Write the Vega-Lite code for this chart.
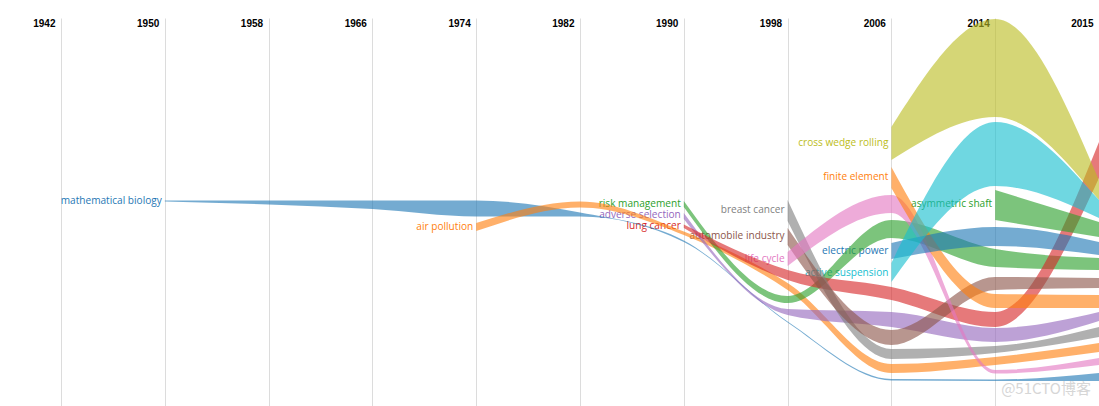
{
  "$schema": "https://vega.github.io/schema/vega-lite/v6.json",
  "width": 1038,
  "height": 388,
  "autosize": {"type": "none"},
  "padding": {"left": 61, "top": 18, "right": 0, "bottom": 0},
  "background": "white",
  "config": {"view": {"stroke": null}},
  "datasets": {
    "bandData": [
      {"topic": "mathematical biology", "year": 1950, "top": 205.5, "bottom": 204.5},
      {"topic": "mathematical biology", "year": 1958, "top": 205.5, "bottom": 201.5},
      {"topic": "mathematical biology", "year": 1966, "top": 205.5, "bottom": 197},
      {"topic": "mathematical biology", "year": 1974, "top": 205.5, "bottom": 189.5},
      {"topic": "mathematical biology", "year": 1982, "top": 193.5, "bottom": 189.5},
      {"topic": "mathematical biology", "year": 1990, "top": 165.5, "bottom": 164},
      {"topic": "mathematical biology", "year": 1998, "top": 84.5, "bottom": 83.5},
      {"topic": "mathematical biology", "year": 2006, "top": 27, "bottom": 25.5},
      {"topic": "mathematical biology", "year": 2014, "top": 26.5, "bottom": 25},
      {"topic": "mathematical biology", "year": 2015, "top": 33, "bottom": 25},
      {"topic": "air pollution", "year": 1974, "top": 183, "bottom": 175},
      {"topic": "air pollution", "year": 1982, "top": 204.5, "bottom": 198.5},
      {"topic": "air pollution", "year": 1990, "top": 174.5, "bottom": 171},
      {"topic": "air pollution", "year": 1998, "top": 123, "bottom": 116},
      {"topic": "air pollution", "year": 2006, "top": 42, "bottom": 33},
      {"topic": "air pollution", "year": 2014, "top": 49, "bottom": 41},
      {"topic": "air pollution", "year": 2015, "top": 63, "bottom": 54},
      {"topic": "risk management", "year": 1990, "top": 205, "bottom": 199},
      {"topic": "risk management", "year": 1998, "top": 110, "bottom": 103},
      {"topic": "risk management", "year": 2006, "top": 186, "bottom": 168},
      {"topic": "risk management", "year": 2014, "top": 157, "bottom": 139},
      {"topic": "risk management", "year": 2015, "top": 148, "bottom": 136},
      {"topic": "adverse selection", "year": 1990, "top": 193, "bottom": 187},
      {"topic": "adverse selection", "year": 1998, "top": 97, "bottom": 91},
      {"topic": "adverse selection", "year": 2006, "top": 94, "bottom": 79},
      {"topic": "adverse selection", "year": 2014, "top": 78, "bottom": 64},
      {"topic": "adverse selection", "year": 2015, "top": 94, "bottom": 85},
      {"topic": "lung cancer", "year": 1990, "top": 181.5, "bottom": 178},
      {"topic": "lung cancer", "year": 1998, "top": 136, "bottom": 126},
      {"topic": "lung cancer", "year": 2006, "top": 119, "bottom": 106},
      {"topic": "lung cancer", "year": 2014, "top": 94, "bottom": 79},
      {"topic": "lung cancer", "year": 2015, "top": 264, "bottom": 228},
      {"topic": "breast cancer", "year": 1998, "top": 206, "bottom": 185},
      {"topic": "breast cancer", "year": 2006, "top": 57, "bottom": 47},
      {"topic": "breast cancer", "year": 2014, "top": 60, "bottom": 53},
      {"topic": "breast cancer", "year": 2015, "top": 79, "bottom": 69},
      {"topic": "automobile industry", "year": 1998, "top": 178, "bottom": 161},
      {"topic": "automobile industry", "year": 2006, "top": 76, "bottom": 61},
      {"topic": "automobile industry", "year": 2014, "top": 129, "bottom": 116},
      {"topic": "automobile industry", "year": 2015, "top": 128, "bottom": 118},
      {"topic": "life cycle", "year": 1998, "top": 154, "bottom": 140},
      {"topic": "life cycle", "year": 2006, "top": 211, "bottom": 193},
      {"topic": "life cycle", "year": 2014, "top": 36, "bottom": 32.5},
      {"topic": "life cycle", "year": 2015, "top": 48, "bottom": 41},
      {"topic": "cross wedge rolling", "year": 2006, "top": 279, "bottom": 246},
      {"topic": "cross wedge rolling", "year": 2014, "top": 387, "bottom": 289},
      {"topic": "cross wedge rolling", "year": 2015, "top": 226, "bottom": 206},
      {"topic": "finite element", "year": 2006, "top": 239, "bottom": 218},
      {"topic": "finite element", "year": 2014, "top": 112, "bottom": 98},
      {"topic": "finite element", "year": 2015, "top": 111, "bottom": 98},
      {"topic": "electric power", "year": 2006, "top": 163, "bottom": 147},
      {"topic": "electric power", "year": 2014, "top": 179, "bottom": 160},
      {"topic": "electric power", "year": 2015, "top": 164, "bottom": 151},
      {"topic": "active suspension", "year": 2006, "top": 143, "bottom": 124},
      {"topic": "active suspension", "year": 2014, "top": 284, "bottom": 220},
      {"topic": "active suspension", "year": 2015, "top": 206, "bottom": 188},
      {"topic": "asymmetric shaft", "year": 2014, "top": 216, "bottom": 186},
      {"topic": "asymmetric shaft", "year": 2015, "top": 184, "bottom": 169}
    ],
    "labelData": [
      {"topic": "mathematical biology", "year": 1950, "mid": 205},
      {"topic": "air pollution", "year": 1974, "mid": 179},
      {"topic": "risk management", "year": 1990, "mid": 202.5},
      {"topic": "adverse selection", "year": 1990, "mid": 191},
      {"topic": "lung cancer", "year": 1990, "mid": 180},
      {"topic": "breast cancer", "year": 1998, "mid": 196},
      {"topic": "automobile industry", "year": 1998, "mid": 170},
      {"topic": "life cycle", "year": 1998, "mid": 147},
      {"topic": "cross wedge rolling", "year": 2006, "mid": 263},
      {"topic": "finite element", "year": 2006, "mid": 229},
      {"topic": "electric power", "year": 2006, "mid": 155},
      {"topic": "active suspension", "year": 2006, "mid": 133},
      {"topic": "asymmetric shaft", "year": 2014, "mid": 202}
    ],
    "wmData": [
      {"wm": "@51CTO博客", "year": 2015, "mid": 17}
    ]
  },
  "encoding": {
    "x": {
      "field": "year",
      "type": "ordinal",
      "scale": {"type": "point", "padding": 0, "domain": [1942, 1950, 1958, 1966, 1974, 1982, 1990, 1998, 2006, 2014, 2015]},
      "axis": {
        "orient": "top",
        "title": null,
        "domain": false,
        "ticks": false,
        "grid": true,
        "gridColor": "#dcdcdc",
        "gridWidth": 1,
        "labelAngle": 0,
        "labelAlign": "right",
        "labelBaseline": "middle",
        "labelPadding": -5.5,
        "labelOffset": -6,
        "labelFont": "Liberation Sans",
        "labelFontWeight": "bold",
        "labelFontSize": 10,
        "labelColor": "#000000",
        "labelOverlap": false
      }
    }
  },
  "layer": [
    {
      "data": {"name": "labelData"},
      "mark": {"type": "text", "align": "right", "baseline": "middle", "dx": -3, "font": "Open Sans", "fontSize": 10.1},
      "encoding": {
        "y": {"field": "mid", "type": "quantitative", "scale": {"domain": [0, 388], "nice": false, "zero": false}, "axis": null},
        "text": {"field": "topic", "type": "nominal"},
        "color": {
          "field": "topic",
          "type": "nominal",
          "legend": null,
          "scale": {
            "domain": ["mathematical biology", "air pollution", "risk management", "adverse selection", "lung cancer", "breast cancer", "automobile industry", "life cycle", "cross wedge rolling", "finite element", "electric power", "active suspension", "asymmetric shaft"],
            "range": ["#1f77b4", "#ff7f0e", "#2ca02c", "#9467bd", "#d62728", "#7f7f7f", "#8c564b", "#e377c2", "#bcbd22", "#ff7f0e", "#1f77b4", "#17becf", "#2ca02c"]
          }
        }
      }
    },
    {
      "data": {"name": "bandData"},
      "mark": {"type": "area", "interpolate": "monotone", "fillOpacity": 0.62},
      "encoding": {
        "y": {"field": "top", "type": "quantitative"},
        "y2": {"field": "bottom"},
        "color": {"field": "topic", "type": "nominal"}
      }
    },
    {
      "data": {"name": "wmData"},
      "mark": {"type": "text", "align": "right", "baseline": "middle", "dx": -8, "font": "Noto Sans CJK SC", "fontSize": 15, "color": "#d6d6d6"},
      "encoding": {
        "y": {"field": "mid", "type": "quantitative"},
        "text": {"field": "wm", "type": "nominal"}
      }
    }
  ]
}
